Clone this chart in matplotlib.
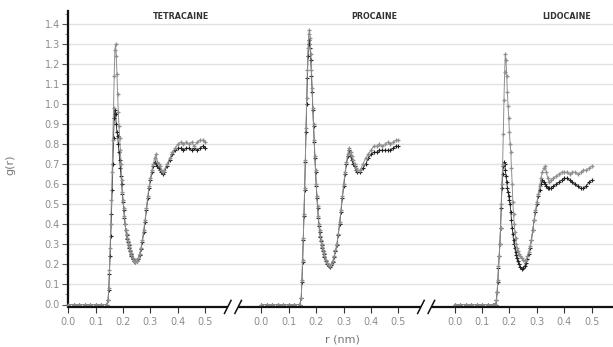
import matplotlib
matplotlib.use("Agg")
import matplotlib.pyplot as plt
from matplotlib.ticker import MultipleLocator

# ---------------- data ----------------
r = [0.00, 0.02, 0.04, 0.06, 0.08, 0.10, 0.12, 0.14,
     0.145, 0.1475, 0.15, 0.1525, 0.155, 0.1575, 0.16, 0.1625, 0.165, 0.1675,
     0.17, 0.1725, 0.175, 0.1775, 0.18, 0.1825, 0.185, 0.1875, 0.19, 0.1925,
     0.195, 0.1975, 0.20, 0.2025, 0.205, 0.2075, 0.21, 0.2125, 0.215, 0.2175,
     0.22, 0.2225, 0.225, 0.2275, 0.23,
     0.235, 0.24, 0.245, 0.25, 0.255, 0.26, 0.265, 0.27, 0.275, 0.28, 0.285,
     0.29, 0.295, 0.30, 0.305, 0.31, 0.315, 0.32, 0.325, 0.33, 0.335, 0.34,
     0.345, 0.35,
     0.36, 0.37, 0.38, 0.39, 0.40, 0.41, 0.42, 0.43, 0.44, 0.45, 0.46, 0.47,
     0.48, 0.49, 0.50]

panel_titles = ["TETRACAINE", "PROCAINE", "LIDOCAINE"]
x_ticks = [0.0, 0.1, 0.2, 0.3, 0.4, 0.5]
y_ticks = [0.0, 0.1, 0.2, 0.3, 0.4, 0.5, 0.6, 0.7, 0.8, 0.9, 1.0, 1.1, 1.2, 1.3, 1.4]

tetracaine_gray = [0, 0, 0, 0, 0, 0, 0, 0,
    0.02, 0.08, 0.17, 0.28, 0.40, 0.52, 0.66, 0.82, 0.98, 1.14,
    1.27, 1.30, 1.24, 1.15, 1.05, 0.96, 0.89, 0.83, 0.77, 0.70,
    0.62, 0.56, 0.52, 0.48, 0.44, 0.40, 0.37, 0.35, 0.33, 0.315,
    0.30, 0.285, 0.27, 0.255, 0.245,
    0.23, 0.215, 0.21, 0.215, 0.23, 0.25, 0.28, 0.32, 0.37, 0.42, 0.48,
    0.54, 0.59, 0.63, 0.67, 0.70, 0.73, 0.75, 0.71, 0.70, 0.69, 0.67,
    0.66, 0.67,
    0.70, 0.73, 0.76, 0.78, 0.80, 0.81, 0.80, 0.81, 0.80, 0.81, 0.79, 0.81,
    0.82, 0.82, 0.81]

tetracaine_black = [0, 0, 0, 0, 0, 0, 0, 0,
    0.02, 0.07, 0.15, 0.24, 0.34, 0.45, 0.57, 0.70, 0.83, 0.93,
    0.97, 0.95, 0.90, 0.86, 0.84, 0.80, 0.76, 0.72, 0.68, 0.64,
    0.60, 0.55, 0.51, 0.47, 0.43, 0.40, 0.37, 0.345, 0.325, 0.31,
    0.295, 0.28, 0.265, 0.25, 0.24,
    0.225, 0.215, 0.21, 0.215, 0.225, 0.245, 0.275, 0.31, 0.36, 0.41, 0.47,
    0.53, 0.58, 0.62, 0.66, 0.69, 0.71, 0.70, 0.69, 0.68, 0.67, 0.66,
    0.65, 0.66,
    0.69, 0.72, 0.75, 0.77, 0.78, 0.78, 0.77, 0.78, 0.78, 0.77, 0.78, 0.77,
    0.78, 0.79, 0.78]

procaine_gray = [0, 0, 0, 0, 0, 0, 0, 0,
    0.03, 0.12, 0.22, 0.33, 0.45, 0.58, 0.72, 0.88, 1.03, 1.17,
    1.28, 1.35, 1.37, 1.33, 1.25, 1.17, 1.08, 0.98, 0.90, 0.82,
    0.74, 0.67, 0.60, 0.54, 0.49, 0.44, 0.40, 0.37, 0.34, 0.32,
    0.30, 0.285, 0.27, 0.255, 0.24,
    0.22, 0.205, 0.195, 0.19, 0.20, 0.215, 0.24, 0.27, 0.30, 0.35, 0.41,
    0.47, 0.54, 0.60, 0.66, 0.71, 0.75, 0.78, 0.76, 0.74, 0.72, 0.70,
    0.68, 0.67,
    0.67, 0.70, 0.73, 0.75, 0.77, 0.79, 0.79, 0.80, 0.79, 0.80, 0.81, 0.80,
    0.81, 0.82, 0.82]

procaine_black = [0, 0, 0, 0, 0, 0, 0, 0,
    0.03, 0.11, 0.21, 0.32, 0.44, 0.57, 0.71, 0.86, 1.00, 1.13,
    1.24, 1.30, 1.32, 1.28, 1.22, 1.14, 1.06, 0.97, 0.89, 0.81,
    0.73, 0.66, 0.59, 0.53, 0.48, 0.43, 0.39, 0.36, 0.335, 0.315,
    0.295, 0.28, 0.265, 0.25, 0.235,
    0.215, 0.20, 0.19, 0.185, 0.195, 0.21, 0.235, 0.265, 0.295, 0.345, 0.40,
    0.46, 0.53, 0.59, 0.65, 0.70, 0.74, 0.77, 0.74, 0.72, 0.70, 0.69,
    0.67, 0.66,
    0.66, 0.68, 0.70, 0.73, 0.75, 0.76, 0.76, 0.77, 0.77, 0.77, 0.77, 0.77,
    0.78, 0.79, 0.79]

lidocaine_gray = [0, 0, 0, 0, 0, 0, 0, 0,
    0, 0, 0, 0.02, 0.06, 0.12, 0.19, 0.24, 0.30, 0.38,
    0.50, 0.60, 0.70, 0.85, 1.02, 1.16, 1.25, 1.22, 1.14, 1.06,
    0.99, 0.93, 0.86, 0.80, 0.76, 0.68, 0.60, 0.51, 0.45, 0.40,
    0.36, 0.33, 0.30, 0.28, 0.265,
    0.25, 0.24, 0.23, 0.22, 0.215, 0.22, 0.24, 0.26, 0.29, 0.32, 0.37,
    0.42, 0.47, 0.51, 0.55, 0.59, 0.63, 0.66, 0.68, 0.69, 0.66, 0.63,
    0.61, 0.62,
    0.63, 0.64, 0.65, 0.66, 0.66, 0.66, 0.65, 0.66, 0.66, 0.65, 0.66, 0.67,
    0.67, 0.68, 0.69]

lidocaine_black = [0, 0, 0, 0, 0, 0, 0, 0,
    0, 0, 0, 0.02, 0.06, 0.11, 0.18, 0.24, 0.30, 0.38,
    0.48, 0.58, 0.65, 0.69, 0.71, 0.70, 0.67, 0.64, 0.61, 0.58,
    0.56, 0.54, 0.52, 0.50, 0.46, 0.42, 0.38, 0.35, 0.32, 0.30,
    0.28, 0.26, 0.245, 0.23, 0.215,
    0.20, 0.185, 0.175, 0.18, 0.19, 0.205, 0.225, 0.25, 0.28, 0.32, 0.37,
    0.42, 0.46, 0.50, 0.54, 0.57, 0.60, 0.62, 0.61, 0.60, 0.59, 0.58,
    0.58, 0.58,
    0.59, 0.60, 0.61, 0.62, 0.63, 0.63, 0.62, 0.61, 0.60, 0.59, 0.58, 0.58,
    0.59, 0.61, 0.62]

gray_series = [tetracaine_gray, procaine_gray, lidocaine_gray]
black_series = [tetracaine_black, procaine_black, lidocaine_black]

# ---------------- layout ----------------
W, H = 613, 347
fig = plt.figure(figsize=(W / 100, H / 100), dpi=100)

px_per_unit = 274.0
x0 = 68.3
panel_span = 0.705
ylo, yhi = -0.012, 1.465
y_zero_px = 304.5
ppy = 200.3
bottom_px = H - (y_zero_px - ylo * ppy)
height_px = (yhi - ylo) * ppy

lefts = [x0, x0 + panel_span * px_per_unit, x0 + 2 * panel_span * px_per_unit]
spans = [panel_span, panel_span, (W - lefts[2]) / px_per_unit]

tick_col = "#8c8c8c"
grid_col = "#e2e2e2"
axes = []
for i in range(3):
    ax = fig.add_axes([lefts[i] / W, bottom_px / H,
                       spans[i] * px_per_unit / W, height_px / H])
    axes.append(ax)
    ax.set_xlim(0, spans[i])
    ax.set_ylim(ylo, yhi)
    for s in ["top", "right", "bottom"]:
        ax.spines[s].set_visible(False)
    if i == 0:
        ax.spines["left"].set_linewidth(1.6)
        ax.spines["left"].set_color("#111111")
        ax.set_yticks(y_ticks)
        ax.set_yticklabels([f"{v:.1f}" for v in y_ticks])
        ax.yaxis.set_minor_locator(MultipleLocator(0.05))
        ax.tick_params(axis="y", which="major", length=4, width=0.8,
                       color="#555555", labelsize=7, labelcolor=tick_col, pad=2)
        ax.tick_params(axis="y", which="minor", length=2, width=0.6,
                       color="#777777")
    else:
        ax.spines["left"].set_visible(False)
        ax.set_yticks(y_ticks)
        ax.tick_params(axis="y", which="both", left=False, labelleft=False)
    # gridlines
    for v in y_ticks[1:]:
        ax.axhline(v, color=grid_col, lw=1.0, zorder=0)
    ax.set_xticks(x_ticks)
    ax.set_xticklabels([f"{v:.1f}" for v in x_ticks])
    ax.tick_params(axis="x", length=4, width=0.8, color="#333333",
                   labelsize=7, labelcolor=tick_col, pad=3)
    ax.patch.set_alpha(0)

    # data
    ax.plot(r, black_series[i], color="#222222", lw=0.6, marker="+", ms=3.0,
            mew=0.8, zorder=3, clip_on=False)
    ax.plot(r, gray_series[i], color="#8f8f8f", lw=0.7, marker="+", ms=3.4,
            mew=0.9, zorder=4, clip_on=False)

    ax.text(0.41, 1.44, panel_titles[i], ha="center", va="center",
            fontsize=5.8, fontweight="bold", color="#333333")

    # bottom axis line with break marks
    tr = ax.get_xaxis_transform()
    ax.plot([0, 0.582 if i < 2 else spans[i]], [0, 0], color="#111111",
            lw=1.6, transform=tr, clip_on=False, zorder=5,
            solid_capstyle="butt")
    if i < 2:
        ax.plot([0.620, panel_span], [0, 0], color="#111111", lw=1.6,
                transform=tr, clip_on=False, zorder=5, solid_capstyle="butt")
        for cx in (0.582, 0.620):
            ax.plot([cx - 0.012, cx + 0.012], [-0.022, 0.022],
                    color="#111111", lw=1.1, transform=tr, clip_on=False,
                    zorder=5)

fig.text(10 / W, 1 - 165 / H, "g(r)", rotation=90, ha="center", va="center",
         fontsize=8, color="#777777")
fig.text(342 / W, 1 - 339 / H, "r (nm)", ha="center", va="center",
         fontsize=8, color="#777777")

fig.savefig("out.png", dpi=100)
